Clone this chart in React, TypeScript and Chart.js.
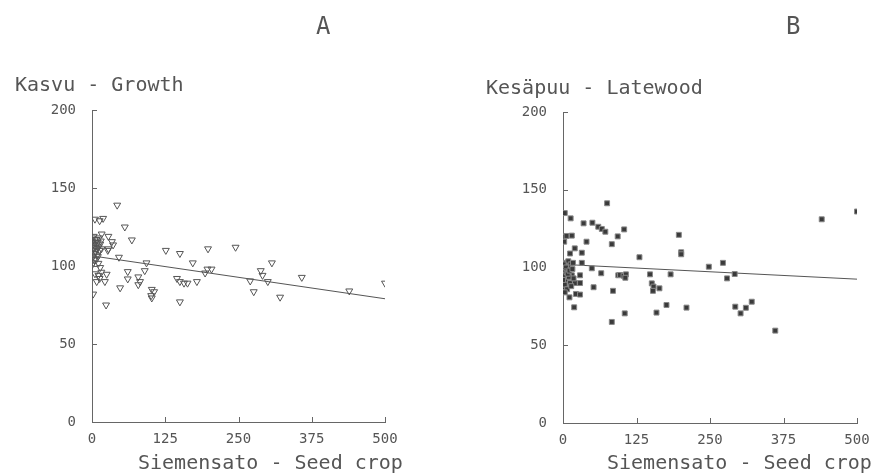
import React, { useEffect, useRef } from "react";
import { Chart, registerables } from "chart.js";

Chart.register(...registerables);

// ---------- data ----------
const xTicks = [0, 125, 250, 375, 500];
const yTicks = [0, 50, 100, 150, 200];

// Panel A: growth vs seed crop (x, y)
const growthX = [
  0, 1, 2, 3, 1, 4, 2, 5, 6, 7, 8, 6, 9, 10, 11, 12, 3, 8, 13, 14, 4, 7, 10, 15, 16, 0, 2, 11, 14,
  5, 13, 19, 43, 56, 16.5, 28, 34, 36, 28, 27, 68, 46, 126, 150, 198, 245, 93, 172, 307, 197, 204,
  193, 288, 291, 270, 300, 321, 276, 61, 90, 61, 79, 82, 79, 145, 150, 157, 163, 179, 150, 48, 102,
  106, 101, 102, 2, 24, 5, 16, 25, 13, 8, 22, 11, 358, 439, 500,
];
const growthY = [
  118, 116, 114, 112, 110, 108, 106, 117, 115, 113, 111, 109, 107, 115, 112, 118, 119, 117, 110, 114,
  104, 104, 106, 116, 111, 100.6, 102, 101.7, 99,
  130, 129, 130.5, 139, 125, 120.5, 119, 115.6, 113.5, 111, 110, 116.7, 105.6, 110, 108, 111, 112, 102,
  102, 102, 98, 98, 95.5, 97, 94, 90.4, 90, 80, 83.5, 96.4, 97, 91.7, 93, 90, 88, 92, 90, 89, 89, 90,
  77, 86, 85, 83.5, 81, 79.5, 82, 75, 95, 96, 94.7, 92, 90, 90, 94, 92.7, 84, 89,
];
const growthFit = [106.5, 79];

// Panel B: latewood vs seed crop (x, y)
const latewoodX = [
  3, 13, 75, 35, 50, 60, 66, 72, 2, 2, 6, 15, 40, 20, 32, 83, 93, 104, 12, 5, 9, 13, 17, 9, 32, 49,
  65, 94, 52, 85, 83, 2, 8, 15, 20, 22, 11, 19, 197, 201, 201, 130, 97, 103, 107, 106, 148, 183, 248,
  29, 29, 29, 151, 154, 153, 164, 176, 210, 159, 105, 440, 500, 272, 279, 292, 293, 302, 311, 321, 361,
  0, 2, 4, 6, 3, 7, 10, 12, 1, 5, 8, 14, 0, 11, 16, 3, 18,
];
const latewoodY = [
  135, 131.6, 141.3, 128.4, 128.8, 126.2, 124.8, 123, 119.8, 116.6, 120.3, 120.5, 116.6, 112.3, 109.5,
  115, 120, 124.5, 109, 103, 104, 102, 103, 100, 103, 99.5, 96.3, 95, 87.3, 85, 65, 87.3, 92, 95, 90,
  83, 80.8, 74.4, 121, 109.8, 108.5, 106.6, 95.2, 94.7, 95.6, 93.4, 95.6, 95.6, 100.5, 95, 90, 82.6,
  89.8, 87.7, 85, 86.6, 75.9, 74.2, 71, 70.5, 131, 136, 103, 93, 95.8, 74.8, 70.5, 74.1, 78, 59.4,
  98, 95, 92, 97, 89, 86, 94, 90, 102, 100, 96, 88, 92, 98, 99, 84, 93,
];
const latewoodFit = [102, 92.5];

const FONT = "'DejaVu Sans Mono', 'Liberation Mono', monospace";
const INK = "#555";

const innerTicks = {
  id: "innerTicks",
  afterDraw(chart: any) {
    const { ctx } = chart;
    const xs = chart.scales.x;
    const ys = chart.scales.y;
    ctx.save();
    ctx.strokeStyle = "#666";
    ctx.lineWidth = 1;
    ctx.beginPath();
    xs.ticks.forEach((_t: any, i: number) => {
      if (i === 0) return;
      const px = Math.round(xs.getPixelForTick(i)) + 0.5;
      ctx.moveTo(px, ys.bottom);
      ctx.lineTo(px, ys.bottom - 5);
    });
    ys.ticks.forEach((_t: any, i: number) => {
      if (i === 0) return;
      const py = Math.round(ys.getPixelForTick(i)) + 0.5;
      ctx.moveTo(xs.left, py);
      ctx.lineTo(xs.left + 5, py);
    });
    ctx.stroke();
    ctx.restore();
  },
};

function makeChart(
  canvas: HTMLCanvasElement,
  xs: number[],
  ys: number[],
  fit: number[],
  marker: "tri" | "rect",
  pad: { left: number; right: number; top: number; bottom: number }
) {
  const pts = xs.map((x, i) => ({ x, y: ys[i] }));
  const pointDs: any =
    marker === "tri"
      ? {
          type: "scatter",
          data: pts,
          pointStyle: "triangle",
          pointRotation: 180,
          pointRadius: 4,
          pointBorderColor: INK,
          pointBackgroundColor: "rgba(255,255,255,0)",
          pointBorderWidth: 1,
        }
      : {
          type: "scatter",
          data: pts,
          pointStyle: "rect",
          pointRadius: 3.5,
          pointBorderColor: "#888",
          pointBackgroundColor: "#3a3a3a",
          pointBorderWidth: 1,
        };
  return new Chart(canvas, {
    type: "scatter",
    data: {
      datasets: [
        pointDs,
        {
          type: "line",
          data: [
            { x: xTicks[0], y: fit[0] },
            { x: xTicks[xTicks.length - 1], y: fit[1] },
          ],
          borderColor: "#555",
          borderWidth: 1,
          pointRadius: 0,
          fill: false,
        } as any,
      ],
    },
    options: {
      responsive: false,
      animation: false,
      layout: { padding: pad },
      plugins: { legend: { display: false }, tooltip: { enabled: false } },
      scales: {
        x: {
          type: "linear",
          min: xTicks[0],
          max: xTicks[xTicks.length - 1],
          afterBuildTicks: (s: any) => {
            s.ticks = xTicks.map((v) => ({ value: v }));
          },
          grid: { display: false, drawTicks: false },
          border: { display: true, color: "#666", width: 1 },
          ticks: {
            color: INK,
            font: { family: FONT, size: 14 },
            padding: 9,
            maxRotation: 0,
          },
          afterFit: (s: any) => {
            s.height = 30;
          },
        },
        y: {
          type: "linear",
          min: yTicks[0],
          max: yTicks[yTicks.length - 1],
          afterBuildTicks: (s: any) => {
            s.ticks = yTicks.map((v) => ({ value: v }));
          },
          grid: { display: false, drawTicks: false },
          border: { display: true, color: "#666", width: 1 },
          ticks: {
            color: INK,
            font: { family: FONT, size: 14 },
            padding: 16,
          },
          afterFit: (s: any) => {
            s.width = 92;
          },
        },
      },
    },
    plugins: [innerTicks],
  });
}

const textStyle = (left: number, top: number, size: number): React.CSSProperties => ({
  position: "absolute",
  left,
  top,
  fontFamily: FONT,
  fontSize: size,
  color: INK,
  whiteSpace: "nowrap",
  lineHeight: 1,
});

export default function App() {
  const leftRef = useRef<HTMLCanvasElement>(null);
  const rightRef = useRef<HTMLCanvasElement>(null);

  useEffect(() => {
    const a = makeChart(leftRef.current!, growthX, growthY, growthFit, "tri", {
      left: 0,
      right: 55,
      top: 110,
      bottom: 22,
    });
    const b = makeChart(rightRef.current!, latewoodX, latewoodY, latewoodFit, "rect", {
      left: 31,
      right: 22,
      top: 112,
      bottom: 21,
    });
    return () => {
      a.destroy();
      b.destroy();
    };
  }, []);

  return (
    <div
      style={{
        position: "fixed",
        left: 0,
        top: 0,
        width: 879,
        height: 474,
        background: "#fff",
        overflow: "hidden",
      }}
    >
      <canvas
        ref={leftRef}
        width={440}
        height={474}
        style={{ position: "absolute", left: 0, top: 0 }}
      />
      <canvas
        ref={rightRef}
        width={439}
        height={474}
        style={{ position: "absolute", left: 440, top: 0 }}
      />
      <div style={textStyle(316, 14, 24)}>A</div>
      <div style={textStyle(786, 14, 24)}>B</div>
      <div style={textStyle(15, 74, 20)}>Kasvu - Growth</div>
      <div style={textStyle(486, 77, 20)}>Kesäpuu - Latewood</div>
      <div style={textStyle(138, 452, 20)}>Siemensato - Seed crop</div>
      <div style={textStyle(607, 452, 20)}>Siemensato - Seed crop</div>
    </div>
  );
}
